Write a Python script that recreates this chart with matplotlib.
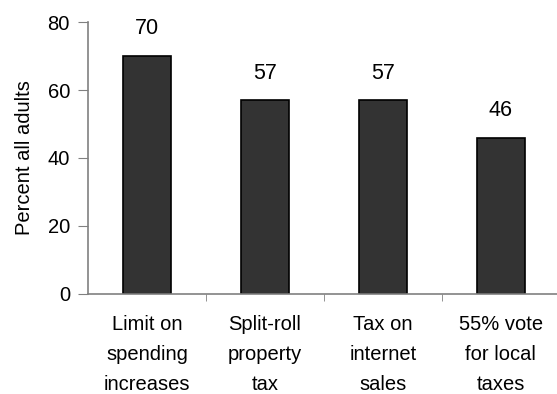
import matplotlib.pyplot as plt
from matplotlib.ticker import FixedLocator

categories = ["Limit on\nspending\nincreases", "Split-roll\nproperty\ntax",
              "Tax on\ninternet\nsales", "55% vote\nfor local\ntaxes"]
values = [70, 57, 57, 46]
y_ticks = [0, 20, 40, 60, 80]

plt.rcParams['font.family'] = ['Liberation Sans', 'DejaVu Sans']

fig = plt.figure(figsize=(5.57, 3.94), dpi=100)
ax = fig.add_axes([0.158, 0.254, 0.847, 0.69])

x = list(range(len(values)))
ax.bar(x, values, width=0.41, color='#333333', edgecolor='black', linewidth=1.2)

# value labels above the bars
for xi, v in zip(x, values):
    ax.text(xi, v + 8, str(v), ha='center', va='center', fontsize=15.5)

ax.set_xlim(-0.5, 3.5)
ax.set_ylim(0, 80)
ax.set_yticks(y_ticks)
ax.set_ylabel('Percent all adults', fontsize=14.5, labelpad=10)

ax.set_xticks(x)
ax.set_xticklabels(categories, fontsize=14.5, linespacing=1.73)
ax.tick_params(axis='x', which='major', length=0, pad=15)
ax.xaxis.set_minor_locator(FixedLocator([0.5, 1.5, 2.5]))
ax.tick_params(axis='x', which='minor', length=5, color='#808080', direction='out')
ax.tick_params(axis='y', length=7, color='#808080', labelsize=14.5, pad=6)

for side in ['top', 'right']:
    ax.spines[side].set_visible(False)
for side in ['left', 'bottom']:
    ax.spines[side].set_color('#808080')
    ax.spines[side].set_linewidth(1.2)

fig.savefig('out.png', dpi=100)
